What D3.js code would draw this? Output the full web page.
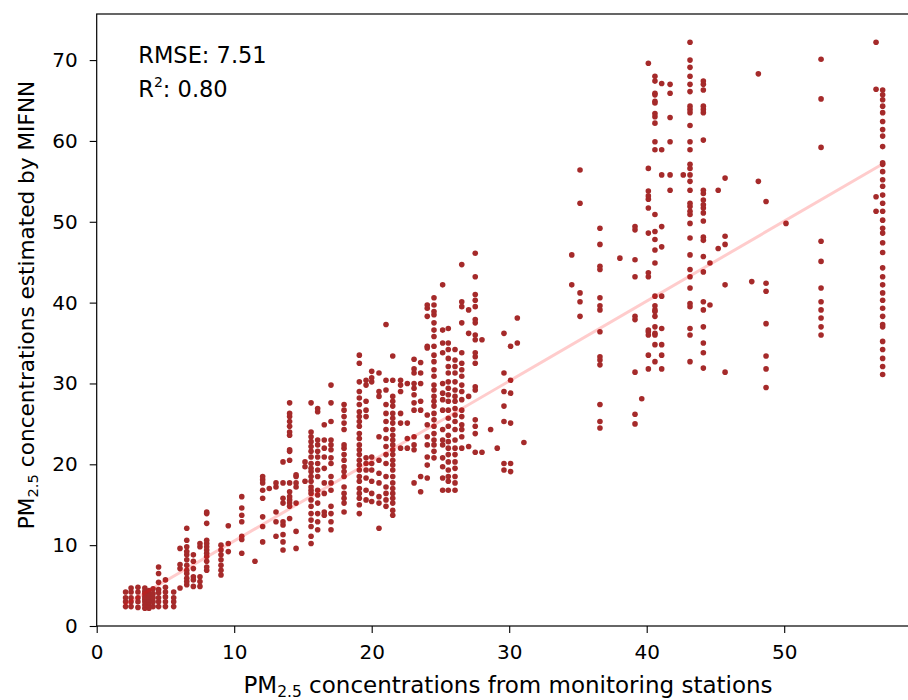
<!DOCTYPE html>
<html>
<head>
<meta charset="utf-8">
<script src="https://cdn.jsdelivr.net/npm/d3@7"></script>
<style>
  html, body { margin: 0; padding: 0; background: #fff; }
  svg { display: block; font-family: "DejaVu Sans", sans-serif; }
</style>
</head>
<body>
<svg id="chart" width="908" height="700"></svg>
<script>
// Observed PM2.5 (monitoring stations), one entry per column of points
const obsX = [2.1, 2.5, 3.0, 3.5, 3.8, 4.1, 4.5, 5.0, 5.6, 6.06, 6.55, 7.03, 7.51, 8.0, 9.04, 9.57, 10.55, 11.51, 12.07, 12.55,
  13.04, 13.55, 14.03, 14.5, 15.15, 15.59, 16.07, 16.55, 17.04, 17.99, 19.1, 19.59, 20.0, 20.53, 21.04, 21.53, 22.1, 22.59,
  23.08, 23.56, 24.04, 24.53, 25.16, 25.57, 26.06, 26.55, 27.05, 27.53, 28.02, 28.65, 29.13, 29.62, 30.1, 30.59, 31.07,
  34.55, 35.15, 36.6, 38.05, 39.15, 39.64, 40.12, 40.6, 41.09, 41.7, 42.66, 43.15, 44.12, 44.6, 45.2, 45.7, 47.64, 48.12,
  48.68, 50.13, 52.68, 56.68, 57.16];

// MIFNN estimates for each observed column
const predY = [
  [2.4, 3.0, 3.5, 4.2],
  [2.4, 3.0, 3.5, 4.2, 4.7],
  [2.3, 3.0, 3.5, 4.2, 4.8],
  [2.2, 2.6, 3.0, 3.3, 3.6, 4.0, 4.3, 4.7],
  [2.2, 2.5, 2.9, 3.2, 3.6, 4.0, 4.4],
  [2.4, 3.0, 3.5, 4.0, 4.6],
  [2.4, 3.0, 3.5, 4.1, 4.5, 5.4, 6.5, 7.3],
  [2.4, 3.0, 3.6, 4.2, 4.8, 5.7],
  [2.4, 3.0, 3.5, 4.2],
  [4.7, 7.1, 7.6, 9.6],
  [5.1, 5.5, 5.9, 6.5, 6.9, 7.5, 8.2, 8.8, 9.2, 9.8, 10.6, 12.1],
  [4.9, 5.7, 6.1, 7.1, 8.0, 8.8],
  [4.9, 5.5, 6.1, 9.8, 10.2],
  [6.9, 7.3, 8.0, 8.6, 9.0, 9.4, 9.8, 10.2, 10.6, 12.7, 13.9, 14.1],
  [6.3, 6.9, 7.5, 8.2, 8.8, 9.4, 10.0],
  [9.2, 10.2, 12.4],
  [9.0, 10.7, 11.1, 12.9, 13.7, 14.6, 16.0],
  [8.0],
  [10.4, 12.3, 13.5, 15.8, 16.8, 17.7, 18.1, 18.5],
  [17.0],
  [11.1, 12.9, 14.1, 17.2, 17.7],
  [9.4, 10.4, 11.3, 12.5, 12.9, 15.2, 15.8, 17.7, 20.3],
  [13.3, 14.8, 15.2, 15.6, 16.0, 16.6, 17.7, 20.5, 21.6, 21.8, 23.6, 24.0, 24.7, 25.3, 25.9, 26.3, 27.6],
  [9.6, 11.7, 15.2, 17.2, 17.7, 18.5, 18.7],
  [17.9, 19.7, 20.3],
  [10.2, 11.1, 12.3, 13.1, 13.9, 14.8, 15.6, 16.4, 16.8, 17.2, 17.9, 18.5, 19.1, 19.5, 20.1, 20.9, 21.6, 22.2, 22.8, 23.4, 24.0, 27.6],
  [11.9, 12.9, 13.9, 15.2, 16.2, 16.8, 18.5, 19.3, 20.1, 20.9, 21.6, 22.4, 23.0, 26.5, 26.9],
  [13.7, 14.1, 16.4, 17.7, 19.5, 20.9, 22.0, 23.0, 24.9],
  [11.9, 12.9, 13.9, 14.8, 16.8, 17.7, 18.5, 20.1, 20.8, 21.8, 22.4, 23.0, 25.3, 27.6, 29.8],
  [14.1, 15.2, 15.8, 16.4, 17.2, 18.5, 19.1, 19.7, 20.5, 21.2, 22.0, 22.4, 24.3, 25.1, 25.9, 26.7, 27.4],
  [13.9, 15.0, 15.8, 16.4, 17.0, 17.9, 18.5, 19.3, 19.9, 20.5, 21.2, 21.8, 22.4, 23.2, 23.8, 24.7, 25.3, 25.9, 26.5, 27.4, 28.2, 29.0, 30.2, 32.5, 33.5],
  [15.6, 16.8, 18.3, 19.3, 20.1, 20.8, 25.9, 26.7, 27.8, 29.8, 30.4],
  [15.4, 16.4, 17.9, 19.3, 20.1, 20.9, 30.2, 30.7, 31.5],
  [12.1, 15.2, 16.0, 17.7, 18.9, 20.5, 23.4, 28.4, 29.0, 31.3],
  [14.8, 15.6, 16.4, 17.2, 18.5, 20.1, 21.2, 22.2, 23.2, 24.3, 25.3, 26.3, 27.4, 29.2, 30.4, 37.3],
  [13.7, 14.3, 15.2, 15.8, 16.4, 17.0, 17.7, 18.5, 19.3, 19.9, 20.5, 21.2, 21.8, 22.4, 23.0, 23.6, 24.3, 25.1, 25.7, 26.3, 27.2, 27.8, 28.4, 30.4, 33.4],
  [22.0, 25.1, 26.3, 29.0, 29.8, 30.4],
  [22.0, 23.2, 25.1, 30.0],
  [17.7, 21.8, 22.4, 23.4, 26.7, 27.6, 28.6, 29.4, 30.0, 31.3, 31.8, 33.0],
  [16.6, 18.5, 26.7, 27.8, 30.0, 31.3, 32.6],
  [18.3, 19.9, 20.9, 22.4, 23.4, 24.9, 26.1, 34.4, 34.6, 38.3, 39.3, 39.7],
  [20.8, 21.6, 22.4, 23.0, 23.8, 24.7, 25.5, 26.3, 27.2, 27.8, 28.4, 29.2, 29.8, 30.9, 31.7, 32.7, 33.5, 34.6, 35.8, 36.6, 37.5, 38.5, 38.9, 39.7, 40.6],
  [16.8, 18.3, 19.7, 20.8, 22.4, 23.0, 24.3, 26.7, 28.0, 28.8, 30.0, 33.8, 35.0, 36.6, 42.2],
  [16.8, 17.9, 18.5, 19.3, 20.3, 21.2, 22.0, 22.8, 23.6, 24.7, 25.7, 26.7, 27.8, 28.6, 29.4, 30.2, 31.3, 32.1, 33.1, 34.2, 35.0, 36.8],
  [16.8, 17.7, 18.5, 19.5, 20.3, 21.2, 22.0, 23.0, 24.3, 25.3, 26.1, 26.9, 27.8, 28.4, 29.2, 30.2, 31.3, 32.1, 32.9, 34.2],
  [22.0, 23.4, 24.3, 24.9, 25.9, 26.7, 28.0, 29.0, 29.8, 30.9, 31.7, 32.5, 33.8, 37.5, 39.5, 40.1, 44.7],
  [22.2, 28.4, 36.2, 39.1],
  [21.5, 23.8, 24.7, 25.5, 29.2, 29.6, 32.5, 33.3, 33.8, 35.4, 36.0, 37.5, 37.9, 39.5, 40.3, 41.0, 43.2, 46.1],
  [21.5, 35.4],
  [24.3],
  [22.0],
  [19.3, 20.1, 25.3, 27.2, 29.0, 31.3, 36.2],
  [19.1, 20.1, 25.1, 28.8, 30.4, 34.6],
  [35.0, 38.1],
  [22.7],
  [42.2, 45.9],
  [38.3, 40.1, 41.2, 52.3, 56.4],
  [24.5, 25.3, 27.4, 32.3, 32.9, 33.3, 36.4, 39.1, 39.6, 40.6, 44.1, 44.5, 47.2, 49.2],
  [45.5],
  [25.0, 26.2, 31.4, 37.9, 38.3, 43.2, 45.3, 49.0, 49.4],
  [28.1],
  [31.8, 33.5, 36.0, 36.4, 36.6, 43.2, 43.7, 48.6, 51.7, 52.8, 53.2, 53.8, 56.6, 69.6],
  [32.7, 34.8, 36.0, 36.2, 37.0, 38.3, 38.9, 39.1, 39.6, 40.8, 44.9, 46.5, 47.8, 48.8, 50.9, 58.9, 59.9, 62.2, 63.0, 63.4, 64.7, 64.9, 65.7, 65.9, 67.4, 68.0],
  [31.8, 33.5, 34.8, 36.8, 40.8, 46.9, 49.4, 55.8, 58.9, 67.1],
  [53.9, 55.8, 59.9, 62.9, 65.9, 67.0],
  [55.8],
  [32.7, 36.0, 36.8, 39.5, 39.9, 41.8, 43.2, 44.1, 45.9, 48.0, 49.8, 50.9, 51.3, 51.9, 52.3, 53.9, 55.0, 55.8, 56.6, 57.1, 58.9, 59.9, 61.9, 63.5, 63.9, 64.3, 66.1, 67.0, 68.0, 69.1, 70.0, 72.2],
  [31.9, 33.8, 35.0, 37.0, 39.1, 40.1, 43.8, 45.7, 47.7, 48.1, 50.1, 51.1, 51.7, 52.1, 52.7, 53.5, 53.9, 60.1, 63.5, 63.9, 64.3, 66.3, 67.0, 67.4],
  [39.7, 44.9],
  [46.7, 53.9],
  [31.4, 42.2, 47.2, 48.2, 55.4],
  [42.6],
  [55.0, 68.3],
  [29.5, 31.8, 33.4, 37.4, 41.4, 42.4, 52.5],
  [49.8],
  [36.0, 37.0, 38.1, 39.1, 40.1, 41.8, 45.1, 47.6, 59.2, 65.2, 70.1],
  [51.3, 53.1, 66.4, 72.2],
  [31.1, 32.1, 33.1, 34.2, 35.2, 37.0, 37.3, 38.3, 39.3, 40.3, 41.2, 42.2, 43.2, 44.3, 46.2, 47.4, 48.6, 49.2, 50.2, 51.3, 52.3, 53.3, 54.4, 55.2, 56.2, 57.1, 57.3, 59.3, 60.6, 61.4, 62.4, 63.5, 64.3, 65.1, 65.7, 66.3]
];

// Fitted regression line endpoints
const fitX = [2, 57];
const fitY = [2.6, 57.0];

const xTicks = [0, 10, 20, 30, 40, 50];
const yTicks = [0, 10, 20, 30, 40, 50, 60, 70];
const statsText = { rmse: "7.51", r2: "0.80" };

const svg = d3.select("#chart");
const x = d3.scaleLinear().domain([0, 60]).range([96.7, 921.7]);
const y = d3.scaleLinear().domain([0, 75.7]).range([626, 14]);

const points = obsX.flatMap((xv, i) => predY[i].map(yv => ({ x: xv, y: yv })));

// Points
svg.append("g")
  .selectAll("circle")
  .data(points)
  .join("circle")
  .attr("cx", d => x(d.x))
  .attr("cy", d => y(d.y))
  .attr("r", 2.8)
  .attr("fill", "#a52a2a");

// Regression line
const line = d3.line().x(d => x(d[0])).y(d => y(d[1]));
svg.append("path")
  .datum(fitX.map((v, i) => [v, fitY[i]]))
  .attr("d", line)
  .attr("fill", "none")
  .attr("stroke", "red")
  .attr("stroke-opacity", 0.2)
  .attr("stroke-width", 3);

// Axes frame
svg.append("rect")
  .attr("x", x(0)).attr("y", y(75.7))
  .attr("width", x(60) - x(0)).attr("height", y(0) - y(75.7))
  .attr("fill", "none").attr("stroke", "#000").attr("stroke-width", 1.2);

const xAxis = svg.append("g")
  .attr("transform", `translate(0,${y(0)})`)
  .call(d3.axisBottom(x).tickValues(xTicks).tickFormat(d3.format("d")).tickSize(7).tickSizeOuter(0).tickPadding(12));
const yAxis = svg.append("g")
  .attr("transform", `translate(${x(0)},0)`)
  .call(d3.axisLeft(y).tickValues(yTicks).tickFormat(d3.format("d")).tickSize(7).tickSizeOuter(0).tickPadding(12));

[xAxis, yAxis].forEach(g => {
  g.select(".domain").remove();
  g.selectAll("line").attr("stroke", "#000").attr("stroke-width", 1.1);
  g.selectAll("text").attr("font-size", 20).attr("font-family", "DejaVu Sans").attr("fill", "#000");
});

// X label
const xl = svg.append("text")
  .attr("x", 508).attr("y", 693)
  .attr("text-anchor", "middle")
  .attr("font-size", 23).attr("fill", "#000");
xl.append("tspan").text("PM");
xl.append("tspan").attr("font-size", 15.5).attr("dy", 4).text("2.5");
xl.append("tspan").attr("dy", -4).text(" concentrations from monitoring stations");

// Y label
const yl = svg.append("text")
  .attr("transform", "translate(33.5,305) rotate(-90)")
  .attr("text-anchor", "middle")
  .attr("font-size", 21.6).attr("fill", "#000");
yl.append("tspan").text("PM");
yl.append("tspan").attr("font-size", 14.8).attr("dy", 4).text("2.5");
yl.append("tspan").attr("dy", -4).text(" concentrations estimated by MIFNN");

// Stats annotation
svg.append("text")
  .attr("x", 138.3).attr("y", 63.3)
  .attr("font-size", 22.5).attr("fill", "#000")
  .text("RMSE: " + statsText.rmse);
const r2 = svg.append("text")
  .attr("x", 138.3).attr("y", 96.7)
  .attr("font-size", 22.5).attr("fill", "#000");
r2.append("tspan").text("R");
r2.append("tspan").attr("font-size", 14).attr("dy", -9.4).text("2");
r2.append("tspan").attr("dy", 9.4).text(": " + statsText.r2);
</script>
</body>
</html>
